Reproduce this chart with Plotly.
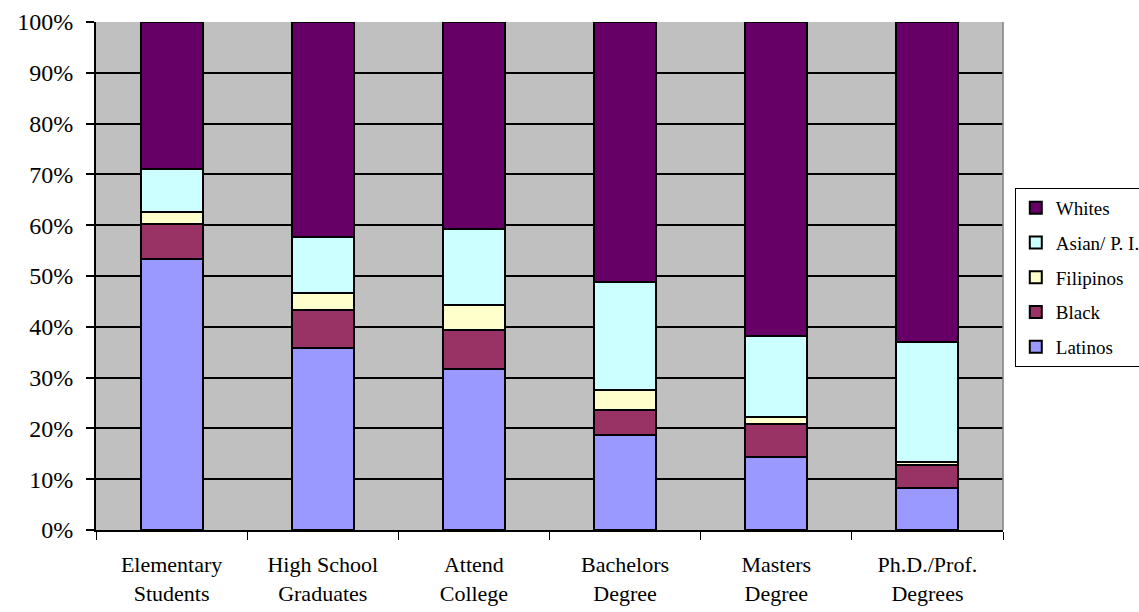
import plotly.graph_objects as go

# Share of each group at every educational stage (percent)
categories = ["Elementary<br>Students", "High School<br>Graduates", "Attend<br>College",
              "Bachelors<br>Degree", "Masters<br>Degree", "Ph.D./Prof.<br>Degrees"]
latinos = [53.3, 35.8, 31.7, 18.7, 14.4, 8.3]
black = [6.9, 7.5, 7.7, 4.9, 6.5, 4.4]
filipinos = [2.4, 3.4, 4.9, 4.0, 1.3, 0.7]
asian_pi = [8.5, 11.0, 15.0, 21.2, 16.0, 23.6]
whites = [28.9, 42.3, 40.7, 51.2, 61.8, 63.0]

y_ticks = [0, 10, 20, 30, 40, 50, 60, 70, 80, 90, 100]
y_tick_text = [f"{v}%" for v in y_ticks]

# Stacked bottom-to-top; legend lists them top-to-bottom
series = [
    ("Latinos", latinos, "#9999FF"),
    ("Black", black, "#993366"),
    ("Filipinos", filipinos, "#FFFFCC"),
    ("Asian/ P. I.", asian_pi, "#CCFFFF"),
    ("Whites", whites, "#660066"),
]

fig = go.Figure()
for i, (name, vals, color) in enumerate(series):
    fig.add_trace(go.Bar(
        x=categories, y=vals, name=name, legendgroup=name,
        legendrank=len(series) - i,
        marker=dict(color=color, line=dict(color="black", width=2)),
        width=0.41,
    ))

font_family = "Times New Roman, Liberation Serif, serif"

fig.update_layout(
    barmode="stack",
    width=1139, height=612,
    margin=dict(l=96, r=136, t=22, b=82, autoexpand=False),
    paper_bgcolor="white",
    plot_bgcolor="#C0C0C0",
    font=dict(family=font_family, size=22, color="black"),
    showlegend=True,
    legend=dict(
        traceorder="grouped",
        x=1.013, xanchor="left",
        y=0.497, yanchor="middle",
        bgcolor="white",
        bordercolor="black", borderwidth=1,
        font=dict(family=font_family, size=19, color="black"),
        itemwidth=30,
        tracegroupgap=7,
    ),
    xaxis=dict(
        showgrid=False,
        showline=True, linecolor="black", linewidth=2,
        ticks="outside", tickson="boundaries", ticklen=8,
        tickcolor="black", tickwidth=1,
        tickfont=dict(family=font_family, size=22),
        ticklabelstandoff=14,
    ),
    yaxis=dict(
        range=[0, 100],
        tickvals=y_ticks, ticktext=y_tick_text,
        showgrid=True, gridcolor="black", gridwidth=1.5,
        showline=True, linecolor="black", linewidth=2,
        ticks="outside", ticklen=8, tickcolor="black", tickwidth=1.5,
        tickfont=dict(family=font_family, size=24),
        ticklabelstandoff=8,
        zeroline=False,
    ),
)

# Thin gray frame on the right side of the plotting area
fig.add_shape(type="line", xref="paper", yref="paper", x0=1, x1=1, y0=0, y1=1,
              line=dict(color="#808080", width=1.5))

fig.write_html("out.html")
